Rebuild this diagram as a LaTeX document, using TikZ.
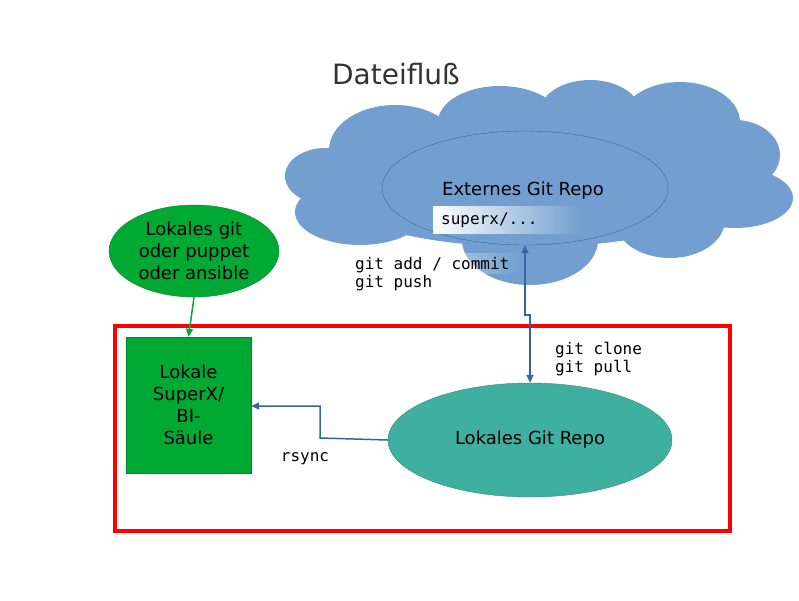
\documentclass[tikz,border=0pt]{standalone}
\usepackage{fontspec}
\setmainfont{DejaVu Sans}
\setmonofont{DejaVu Sans Mono}
\usetikzlibrary{arrows.meta,fadings,shapes.geometric}
\definecolor{cloud}{HTML}{729FCF}
\definecolor{dblue}{HTML}{3465A4}
\definecolor{teal}{HTML}{3FAF9F}
\definecolor{grn}{HTML}{00A933}
\tikzfading[name=fade right, left color=transparent!0, right color=transparent!100]
\tikzset{
  lobe/.style={fill=cloud},
  txt/.style={font=\fontsize{18}{22}\selectfont, align=center},
  code/.style={font=\ttfamily\fontsize{16}{18}\selectfont, align=left},
  conn/.style={dblue, line width=1.5pt, -{Triangle[length=8pt,width=7pt]}}
}
\begin{document}
\begin{tikzpicture}[x=1pt,y=-1pt]
\useasboundingbox (0,0) rectangle (799,600);
\node[font=\fontsize{28}{32}\selectfont, text=black!80] (title) at (396,74) {Dateifluß};
% cloud
\foreach \cx/\cy/\rx/\ry in {395/150/66/45, 500/122/62/36, 590/112/50/32, 680/122/60/40, 735/155/45/35, 735/198/58/30, 670/220/55/38, 530/240/68/45, 360/212/65/33, 325/176/40/28, 530/185/210/62}
  \fill[lobe] (\cx,\cy) ellipse [x radius=\rx, y radius=\ry];
\node[ellipse, draw=dblue, minimum width=286pt, minimum height=114pt] (ext) at (525,188) {};
\node[txt, anchor=base] (extlbl) at (523,195) {Externes Git Repo};
\fill[white, path fading=fade right] (433,206) rectangle (582,234);
\node[code, anchor=west, inner sep=0pt] (sx) at (441,220) {superx/...};
\fill[white, path fading=fade right] (348,253) rectangle (520,274);
\node[code, anchor=north west, inner sep=0pt] (push) at (355,257) {git add / commit\\git push};
% local repo
\node[ellipse, fill=teal, draw=teal!80!black, minimum width=284pt, minimum height=114pt, txt] (loc) at (530,440) {Lokales Git Repo};
\node[code, anchor=north west, inner sep=0pt] (clone) at (555,342) {git clone\\git pull};
% red frame
\draw[red, line width=4.5pt] (115,326) rectangle (730,531);
% green
\node[fill=grn, draw=grn!80!black, minimum width=125pt, minimum height=136pt, txt] (sx2) at (188.5,405) {Lokale\\SuperX/\\BI-\\Säule};
\node[ellipse, fill=grn, draw=grn!80!black, minimum width=170pt, minimum height=92pt, txt, inner sep=0pt] (git) at (194,251) {Lokales git\\oder puppet\\oder ansible};
\draw[grn, line width=1.5pt, -{Triangle[length=8pt,width=7pt]}] (git.south) -- (sx2.north);
% arrows
\coordinate (j1) at (530,315);
\coordinate (j2) at (525,315);
\draw[conn, {Triangle[length=8pt,width=7pt]}-{Triangle[length=8pt,width=7pt]}] (ext.south -| j2) -- (j2) -- (j1) -- (loc.north);
\coordinate (r1) at (320,438);
\coordinate (r2) at (320,406);
\draw[conn] (loc.west) -- (r1) -- (r2) -- (sx2.east |- r2);
\node[code] (rs) at (305,459) {rsync};
\end{tikzpicture}
\end{document}
